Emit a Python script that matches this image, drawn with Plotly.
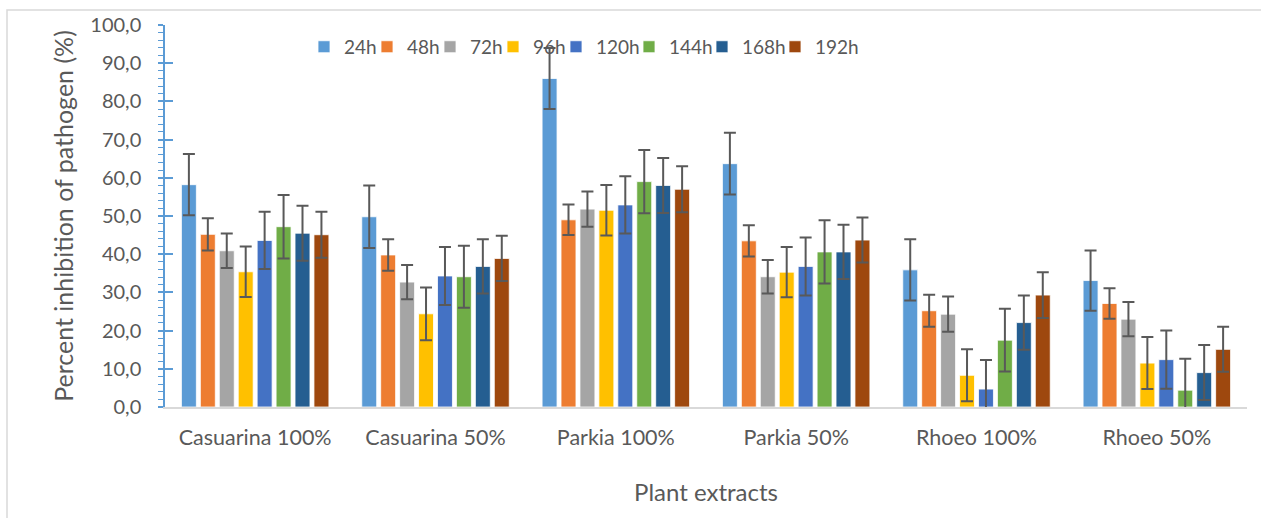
import plotly.graph_objects as go

# Plant extract treatments (x categories)
extracts = ["Casuarina 100%", "Casuarina 50%", "Parkia 100%",
            "Parkia 50%", "Rhoeo 100%", "Rhoeo 50%"]

# Incubation times (one series each)
times = ["24h", "48h", "72h", "96h", "120h", "144h", "168h", "192h"]

# Mean percent inhibition per time point, in extract order
inh_24h = [58.2, 49.8, 86.0, 63.7, 35.9, 33.1]
inh_48h = [45.2, 39.8, 49.0, 43.5, 25.2, 27.1]
inh_72h = [40.9, 32.7, 51.8, 34.1, 24.3, 23.0]
inh_96h = [35.4, 24.4, 51.5, 35.3, 8.3, 11.5]
inh_120h = [43.6, 34.3, 52.9, 36.8, 4.7, 12.4]
inh_144h = [47.2, 34.1, 59.0, 40.6, 17.5, 4.4]
inh_168h = [45.5, 36.8, 58.0, 40.6, 22.1, 9.0]
inh_192h = [45.1, 38.9, 57.0, 43.7, 29.3, 15.1]

# Error bar half-widths
err_24h = [8.0, 8.2, 8.0, 8.1, 8.0, 7.9]
err_48h = [4.2, 4.1, 4.0, 4.1, 4.2, 4.0]
err_72h = [4.5, 4.5, 4.6, 4.4, 4.6, 4.5]
err_96h = [6.6, 6.9, 6.6, 6.6, 6.8, 6.8]
err_120h = [7.5, 7.6, 7.5, 7.6, 7.6, 7.6]
err_144h = [8.3, 8.1, 8.3, 8.3, 8.2, 8.2]
err_168h = [7.2, 7.1, 7.2, 7.1, 7.1, 7.2]
err_192h = [6.0, 5.9, 6.0, 5.9, 6.0, 5.9]

# Y-axis ticks (decimal comma labels)
y_tickvals = [0, 10, 20, 30, 40, 50, 60, 70, 80, 90, 100]
y_ticktext = ["0,0", "10,0", "20,0", "30,0", "40,0", "50,0",
              "60,0", "70,0", "80,0", "90,0", "100,0"]

series_values = [inh_24h, inh_48h, inh_72h, inh_96h,
                 inh_120h, inh_144h, inh_168h, inh_192h]
series_errors = [err_24h, err_48h, err_72h, err_96h,
                 err_120h, err_144h, err_168h, err_192h]
colors = ["#5B9BD5", "#ED7D31", "#A5A5A5", "#FFC000",
          "#4472C4", "#70AD47", "#255E91", "#9E480E"]

FONT = "Lato"
TEXT = "#595959"

fig = go.Figure()
for i, (name, vals, errs, col) in enumerate(
        zip(times, series_values, series_errors, colors)):
    # compact legend spacing; last entry gets room for its full label
    lw = 18 if len(name) == 3 else 28
    if i == len(times) - 1:
        lw = 50
    fig.add_trace(go.Bar(
        name=name, x=extracts, y=vals, legendwidth=lw,
        marker=dict(color=col, line=dict(color="white", width=0.8)),
        error_y=dict(type="data", array=errs, visible=True,
                     color="#595959", thickness=2, width=6),
    ))

# Empty overlay axis used only for the inward half of the major ticks
fig.add_trace(go.Scatter(x=[extracts[0]], y=[0], yaxis="y2", mode="markers",
                         marker=dict(opacity=0), showlegend=False,
                         hoverinfo="skip"))

W, H = 1261, 518
L, R, T, B = 165, 14, 23, 111
pw, ph = W - L - R, H - T - B


def px_x(px):
    return (px - L) / pw


def px_y(py):
    return (H - B - py) / ph


fig.update_layout(
    width=W, height=H,
    margin=dict(l=L, r=R, t=T, b=B, pad=0),
    paper_bgcolor="white", plot_bgcolor="white",
    barmode="group", bargap=0.16, bargroupgap=0.21,
    font=dict(family=FONT, color=TEXT, size=19),
    showlegend=True,
    legend=dict(orientation="h", x=px_x(304), xanchor="left",
                y=px_y(45), yanchor="middle",
                font=dict(family=FONT, size=19, color=TEXT),
                itemwidth=30,
                bgcolor="rgba(0,0,0,0)", traceorder="normal"),
    xaxis=dict(
        showline=True, linecolor="#D9D9D9", linewidth=2,
        ticks="", showgrid=False, zeroline=False,
        tickfont=dict(family=FONT, size=21.5, color=TEXT),
        ticklabelstandoff=10,
        title=dict(text="Plant extracts", standoff=35,
                   font=dict(family=FONT, size=24, color=TEXT)),
    ),
    yaxis=dict(
        range=[0, 100], showline=True, linecolor="#5B9BD5", linewidth=1.5,
        tickvals=y_tickvals, ticktext=y_ticktext,
        ticks="outside", ticklen=5, tickcolor="#5B9BD5", tickwidth=1.5,
        minor=dict(dtick=2, ticks="outside", ticklen=5,
                   tickcolor="#5B9BD5", tickwidth=1.2, showgrid=False),
        showgrid=False, zeroline=False,
        tickfont=dict(family=FONT, size=20, color=TEXT),
        ticklabelstandoff=13,
        title=dict(text="Percent inhibition of pathogen (%)", standoff=10,
                   font=dict(family=FONT, size=25, color=TEXT)),
    ),
    yaxis2=dict(
        range=[0, 100], overlaying="y", side="left", anchor="x",
        tickvals=y_tickvals, ticks="inside", ticklen=8,
        tickcolor="#5B9BD5", tickwidth=1.5, showticklabels=False,
        showline=False, showgrid=False, zeroline=False,
    ),
    shapes=[dict(type="rect", xref="paper", yref="paper",
                 x0=px_x(7), x1=px_x(W + 20), y0=px_y(H + 20), y1=px_y(8),
                 line=dict(color="#D9D9D9", width=1.5), layer="below")],
)

fig.write_html("out.html")
